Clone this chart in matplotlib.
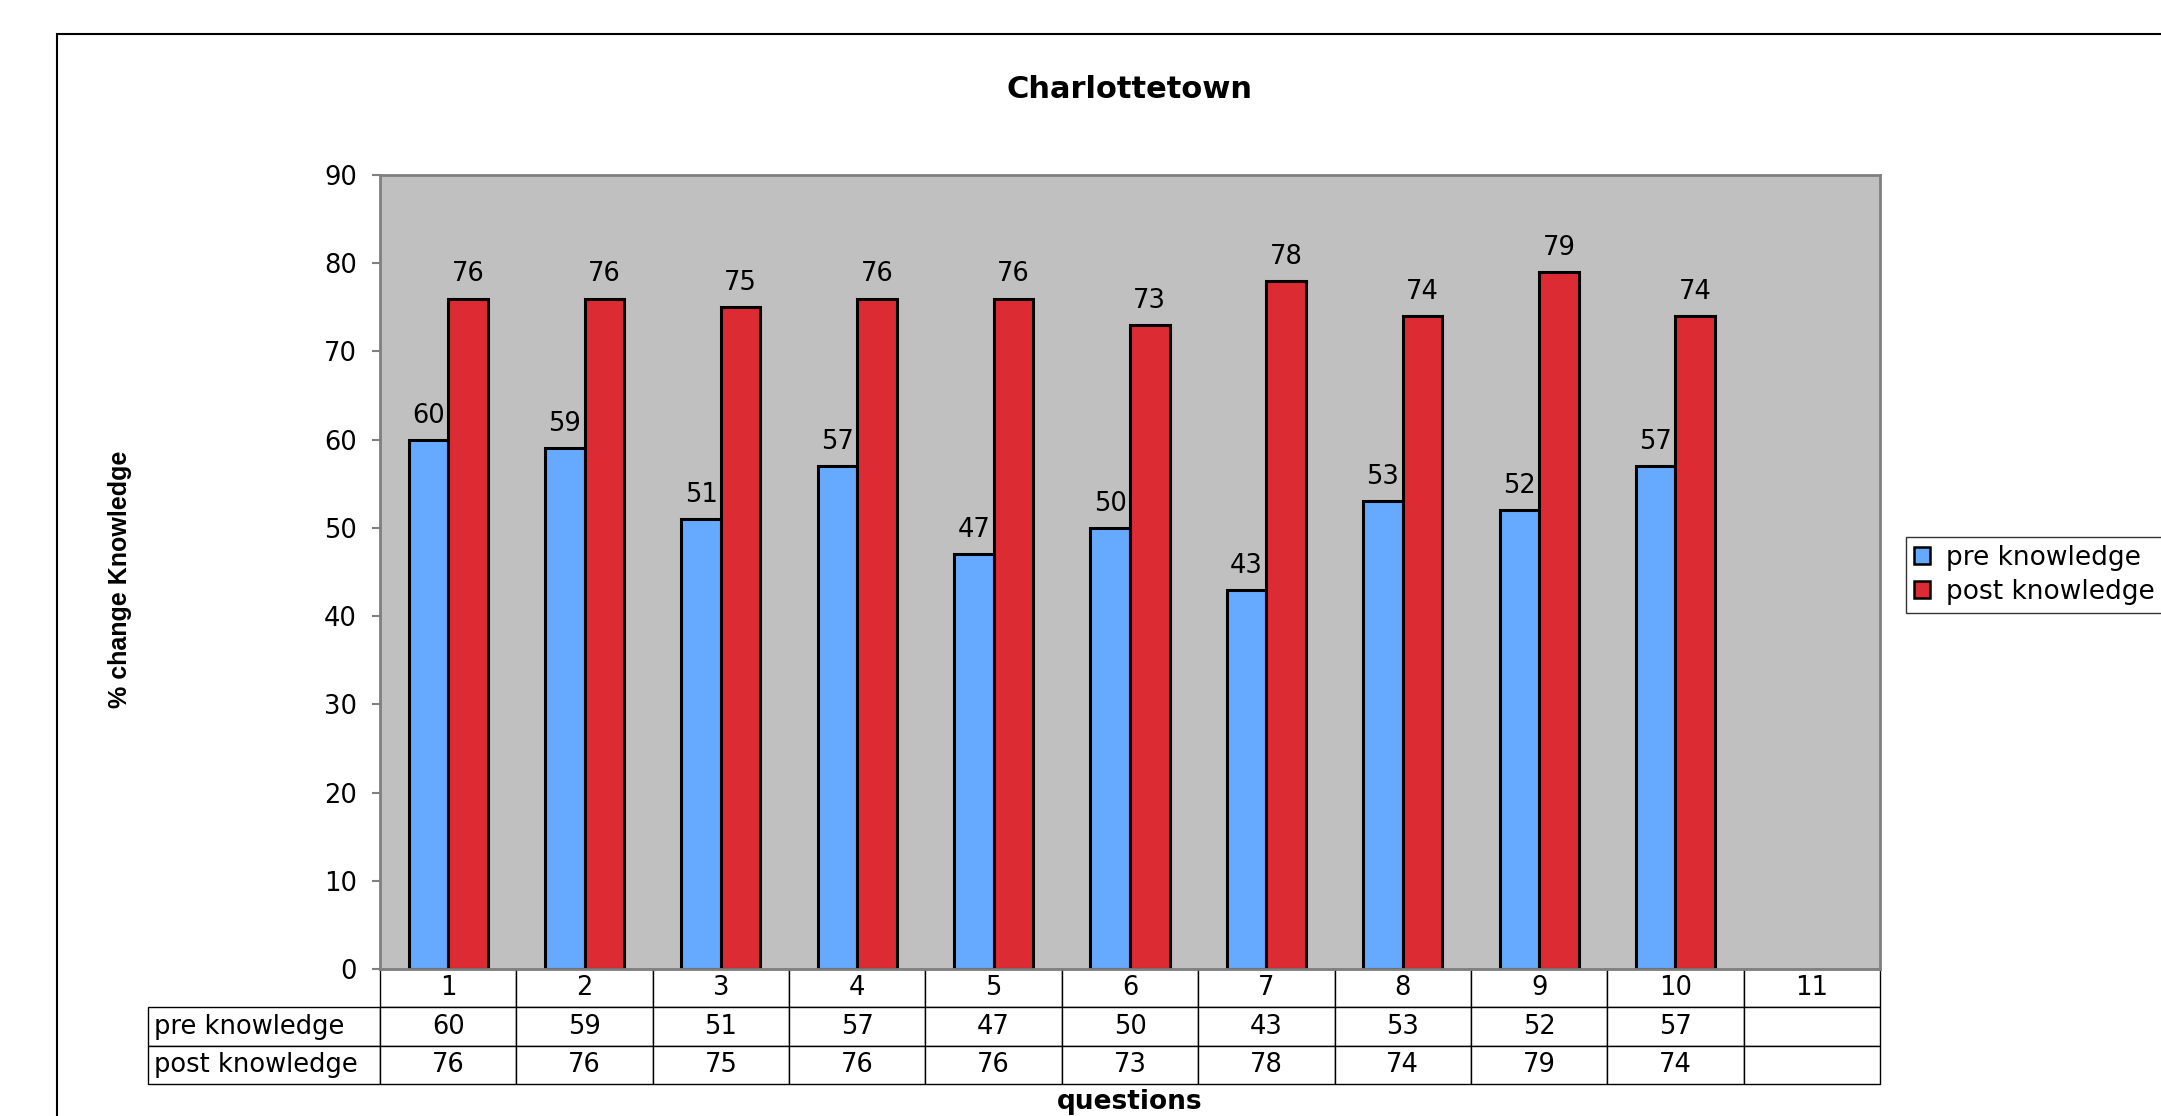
import numpy as np
import matplotlib
matplotlib.use("Agg")
import matplotlib.pyplot as plt
from matplotlib.patches import Rectangle, Patch
from matplotlib.table import Table

plt.rcParams['font.family'] = ['DejaVu Sans']

# data
questions = ['1', '2', '3', '4', '5', '6', '7', '8', '9', '10', '11']
series_names = ['pre knowledge', 'post knowledge']
pre_knowledge = [60, 59, 51, 57, 47, 50, 43, 53, 52, 57]
post_knowledge = [76, 76, 75, 76, 76, 73, 78, 74, 79, 74]

blue = '#66AAFF'
red = '#DD2B33'

W, H = 2161, 1116
fig = plt.figure(figsize=(W / 100, H / 100), dpi=100)
ax = fig.add_axes([380 / W, 1 - 969 / H, 1500 / W, 794 / H])

x = np.arange(len(pre_knowledge))
bw = 0.29
b_pre = ax.bar(x - bw / 2, pre_knowledge, bw, color=blue, edgecolor='black', linewidth=2.2)
b_post = ax.bar(x + bw / 2, post_knowledge, bw, color=red, edgecolor='black', linewidth=2.2)
ax.bar_label(b_pre, padding=8, fontsize=18.5)
ax.bar_label(b_post, padding=8, fontsize=18.5)

ax.set_xlim(-0.5, len(questions) - 0.5)
ax.set_ylim(0, 90)
ax.set_yticks(range(0, 91, 10))
ax.set_xticks([])
ax.set_facecolor('#C0C0C0')
for s in ax.spines.values():
    s.set_color('#808080')
    s.set_linewidth(2)
ax.tick_params(axis='y', labelsize=18.5, length=5.8, width=1.5, color='#808080', pad=10.8)

# data table under the axis (bbox covers the value grid, row labels hang off to the left)
rows = [pre_knowledge, post_knowledge]
n = len(questions)
lab_w = 232 / 1500
col_w = 1 / n
tbl = Table(ax, bbox=[0, -115 / 794, 1, 115 / 794])
for j, q in enumerate(questions):
    tbl.add_cell(0, j, width=col_w, height=1, text=q, loc='center')
for i, (name, vals) in enumerate(zip(series_names, rows)):
    cell = tbl.add_cell(i + 1, -1, width=lab_w, height=1, text=name, loc='left')
    cell.PAD = 0.025
    for j in range(n):
        txt = str(vals[j]) if j < len(vals) else ''
        tbl.add_cell(i + 1, j, width=col_w, height=1, text=txt, loc='center')
tbl.auto_set_font_size(False)
tbl.set_fontsize(18.5)
for (r, c), cell in tbl.get_celld().items():
    cell.set_edgecolor('black')
    cell.set_linewidth(1)
    cell.set_facecolor('white')
ax.add_table(tbl)

# labels
fig.text(1130 / W, 1 - 90 / H, 'Charlottetown', ha='center', va='center',
         fontsize=22, fontweight='bold')
fig.text(1130 / W, 1 / H, 'questions', ha='center', va='bottom',
         fontsize=19, fontweight='bold')
fig.text(120 / W, 1 - 579 / H, '% change Knowledge', ha='center', va='center',
         rotation=90, fontsize=18, fontweight='bold', family=['Liberation Sans'])

handles = [Patch(facecolor=blue, edgecolor='black', linewidth=1.8),
           Patch(facecolor=red, edgecolor='black', linewidth=1.8)]
leg = fig.legend(handles, series_names, loc='upper left',
                 bbox_to_anchor=(1906 / W, 1 - 537 / H), borderaxespad=0,
                 fontsize=19, fancybox=False, handlelength=0.6, handleheight=0.6,
                 handletextpad=0.6, borderpad=0.3, labelspacing=0.3)
leg.get_frame().set_edgecolor('black')
leg.get_frame().set_linewidth(1)

# outer chart frame (right and bottom edges fall outside the picture)
fig.add_artist(Rectangle((57 / W, -0.5), 2.0, 1 - 34 / H + 0.5, transform=fig.transFigure,
                         fill=False, edgecolor='black', linewidth=1.5))

fig.savefig('out.png', dpi=100)
